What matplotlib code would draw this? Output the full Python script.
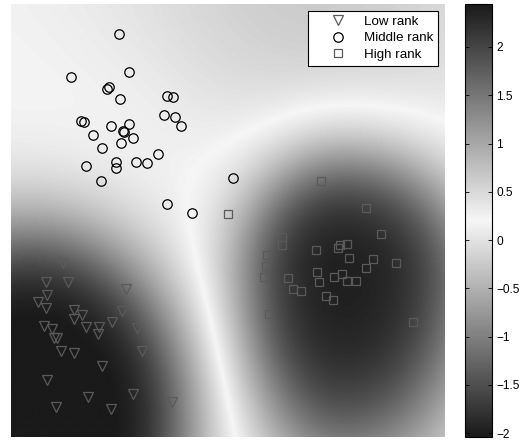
import matplotlib.pyplot as plt
import numpy as np
from matplotlib.colors import LinearSegmentedColormap, Normalize

plt.rcParams['font.family'] = ['Liberation Sans', 'DejaVu Sans']

# point positions in plot units (x to the right, y downward, 434 x 433 field)
low_x = [52.3, 35, 56.7, 36.3, 26.7, 35, 63.3, 71.3, 63.3, 110.7, 114.7, 33, 41.3, 75.3, 88,
         87.3, 101.3, 126.3, 43, 46.3, 49.7, 63, 131.3, 91, 36, 77.3, 122.3, 45.3, 100, 160.7]
low_y = [258.7, 277.7, 278, 291.3, 298.3, 303.7, 306, 311.3, 314.7, 307.3, 285.3, 321.7, 325.3, 322.7, 323.3,
         330, 318.3, 324, 334.3, 334, 346.7, 349, 347.3, 362.3, 376, 393, 390, 403.3, 404.7, 397.7]

mid_x = [107.7, 60, 117.7, 95.7, 98.3, 109, 156.3, 162.3, 153.3, 164, 69.7, 73, 169.7, 99.7, 118, 112,
         113, 82, 122, 109.7, 91.3, 147.3, 75, 105, 105, 124.7, 136.3, 89.7, 221.7, 156.3, 181]
mid_y = [29.7, 72.7, 68, 85.3, 83, 94.7, 92, 93, 110.7, 112.7, 117, 118.3, 122.3, 122.3, 120.3, 126.5,
         128, 131, 134.3, 139.3, 144.3, 149.7, 161.7, 157.7, 164.3, 158.3, 158.7, 177, 173.7, 200.3, 209.3]

high_x = [309.7, 355, 370, 271.3, 271.3, 305, 326.7, 329, 335.7, 337.7, 362.3, 384.7, 256.3, 255, 354.7,
          252.7, 277, 306, 307.7, 323, 331, 335.7, 344.7, 281.7, 290, 315, 322, 257.7, 216.7, 402]
high_y = [176.7, 204.3, 230.3, 232.7, 241, 245.7, 243.7, 241.3, 240.3, 253.7, 254.7, 258.7, 251.3, 262, 263.7,
          273.3, 274, 267.7, 278, 272.7, 270.3, 277, 276.7, 285.3, 286.7, 291.7, 296.3, 310, 210.3, 318]

# background surface: gaussian bumps
# (cx, cy, sx_left, sx_right, sy_up, sy_down, amplitude), squashed with tanh
center = 0.2
bumps = [
    (19, 416, 80, 80, 96, 96, -5.5),        # low rank basin
    (334, 272, 63, 75, 75, 111, 2.71),      # high rank peak
    (300, -20, 150, 150, 150, 150, -0.29),  # top dip
    (120, 150, 100, 100, 100, 100, 0.08),   # middle rank plateau
]
ticks = [-2, -1.5, -1, -0.5, 0, 0.5, 1, 1.5, 2]
vmin, vmax = -2.04, 2.445

W, H = 434, 433
gx, gy = np.meshgrid(np.linspace(0, W, 435), np.linspace(0, H, 434))
G = np.zeros(gx.shape)
for cx, cy, sxl, sxr, syu, syd, a in bumps:
    sx = np.where(gx < cx, sxl, sxr)
    sy = np.where(gy < cy, syu, syd)
    G += a * np.exp(-((gx - cx) ** 2 / (2 * sx ** 2) + (gy - cy) ** 2 / (2 * sy ** 2)))
Z = center + 2.3 * np.tanh(G / 1.5)

cmap = LinearSegmentedColormap.from_list('vgray', [(0, '#1a1a1a'), (0.5, '#f6f6f6'), (1, '#1a1a1a')])

fig = plt.figure(figsize=(5.29, 4.41), dpi=100)
ax = fig.add_axes([11 / 529, 4 / 441, 434 / 529, 433 / 441])
cax = fig.add_axes([465 / 529, 4 / 441, 27 / 529, 433 / 441])

im = ax.imshow(Z, extent=(0, W, H, 0), cmap=cmap, norm=Normalize(vmin, vmax),
               interpolation='bilinear', aspect='auto')

gray = '#5a5a5a'
ax.plot(low_x, low_y, 'v', ms=7.5, mfc='none', mec=gray, mew=0.9, label='Low rank')
ax.plot(mid_x, mid_y, 'o', ms=6.8, mfc='none', mec='black', mew=0.9, label='Middle rank')
ax.plot(high_x, high_y, 's', ms=5.4, mfc='none', mec=gray, mew=0.9, label='High rank')

ax.set_xlim(0, W)
ax.set_ylim(H, 0)
ax.set_xticks([])
ax.set_yticks([])
for s in ax.spines.values():
    s.set_visible(False)

leg = ax.legend(loc='upper right', fontsize=9.6, fancybox=False, framealpha=1,
                edgecolor='black', borderaxespad=0.5, handlelength=3.8, handletextpad=0.1,
                labelspacing=0.33, borderpad=0.35)
leg.get_frame().set_linewidth(0.8)

cb = fig.colorbar(im, cax=cax, ticks=ticks)
cb.ax.set_yticklabels([('%g' % t).replace('-', '\u2212') for t in ticks])
cb.ax.tick_params(direction='in', left=True, right=True, length=3, width=0.6, labelsize=8.6, pad=3)
cb.outline.set_linewidth(0.8)

plt.savefig('out.png', dpi=100)
